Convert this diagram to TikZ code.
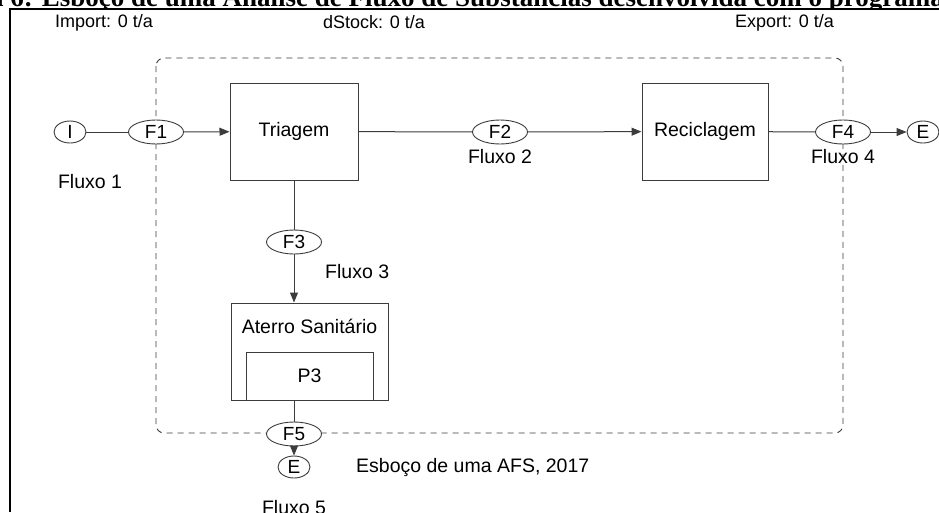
\documentclass[tikz,border=0pt]{standalone}
\usepackage{fontspec}
\setmainfont{Liberation Sans}
\newfontfamily\titlefont{Liberation Serif}
\usetikzlibrary{arrows.meta,shapes.geometric}
\definecolor{linec}{HTML}{3C3C3C}
\begin{document}
\begin{tikzpicture}[x=1pt,y=-1pt,
  lbl/.style={font=\fontsize{19.5}{21}\selectfont, inner sep=0pt},
  hdr/.style={font=\fontsize{18}{20}\selectfont, inner sep=0pt},
  proc/.style={draw=linec, line width=1pt, fill=white, inner sep=0pt, font=\fontsize{19.5}{21}\selectfont},
  flow/.style={draw=linec, line width=0.9pt, ellipse, fill=white, minimum width=55pt, minimum height=24pt, inner sep=0pt, font=\fontsize{19}{21}\selectfont},
  term/.style={flow, minimum width=32pt, minimum height=22pt},
  conn/.style={draw=linec, line width=1pt},
  arr/.style={conn, -{Triangle[length=10pt,width=8pt]}},
  framel/.style={draw=black, line width=1.3pt},
  sysb/.style={draw=linec, line width=0.9pt, dash pattern=on 6pt off 5pt, rounded corners=8pt}
]
\useasboundingbox (0,0) rectangle (939,512);
\fill[white] (0,0) rectangle (939,512);
% title (cropped, as in the reference)
\begin{scope}
\clip (0,0) rectangle (939,8.5);
\node[anchor=base west, inner sep=0pt, font=\titlefont\bfseries\fontsize{27}{29}\selectfont] (title) at (-10,6) {a 6: Esboço de uma Análise de Fluxo de Substâncias desenvolvida com o programa};
\end{scope}
\draw[framel] (939,9) -- (10,9) -- (10,512);
% header labels
\node[hdr, anchor=west] (imp) at (55,22.5) {Import: 0 t/a};
\node[hdr, anchor=west] (dst) at (323,22.5) {dStock: 0 t/a};
\node[hdr, anchor=west] (exp) at (735,22.5) {Export: 0 t/a};
% system boundary
\draw[sysb] (156,58) rectangle (843,433);
% processes
\node[proc, minimum width=128pt, minimum height=97pt] (tri) at (294,131.5) {Triagem};
\node[proc, minimum width=126pt, minimum height=97pt] (rec) at (705,131.5) {Reciclagem};
\node[proc, minimum width=157pt, minimum height=97pt] (ater) at (309.5,351.5) {};
\node[lbl] (atert) at (309.5,326) {Aterro Sanitário};
\node[proc, minimum width=127pt, minimum height=48pt] (p3) at (309.5,376) {P3};
% flows
\node[term] (I) at (70,132) {I};
\node[flow] (F1) at (156,132) {F1};
\node[flow] (F2) at (500,132) {F2};
\node[flow] (F4) at (843,132) {F4};
\node[term] (E1) at (923,132) {E};
\node[flow] (F3) at (294,242) {F3};
\node[flow] (F5) at (294,434) {F5};
\node[term] (E2) at (294,467) {E};
% flow labels
\node[lbl] (fl1) at (90,182) {Fluxo 1};
\node[lbl] (fl2) at (500,157) {Fluxo 2};
\node[lbl, anchor=west] (fl3) at (325,272) {Fluxo 3};
\node[lbl] (fl4) at (843,157) {Fluxo 4};
\node[lbl, anchor=north] (fl5) at (294,500) {Fluxo 5};
\node[lbl, anchor=west] (cap) at (356,467) {Esboço de uma AFS, 2017};
% connectors
\draw[conn] (I) -- (F1);
\draw[arr] (F1) -- (tri);
\draw[conn] (tri) -- (F2);
\draw[arr] (F2) -- (rec);
\draw[conn] (rec) -- (F4);
\draw[arr] (F4) -- (E1);
\draw[conn] (F3 |- tri.south) -- (F3);
\draw[arr] (F3) -- (F3 |- ater.north);
\draw[conn] (F5 |- ater.south) -- (F5);
\draw[arr] (F5) -- (E2);
\end{tikzpicture}
\end{document}
